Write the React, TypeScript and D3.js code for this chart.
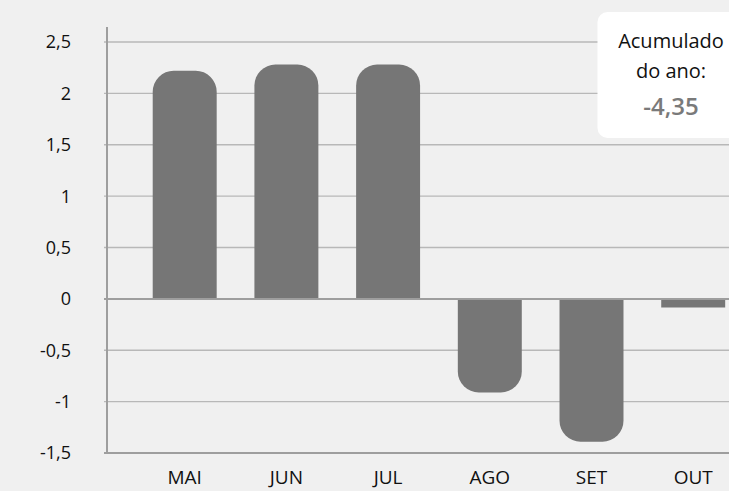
import React from "react";
import * as d3 from "d3";

const categories = ["MAI", "JUN", "JUL", "AGO", "SET", "OUT"];
const values = [2.22, 2.28, 2.28, -0.91, -1.39, -0.085];
const yTicks = [-1.5, -1, -0.5, 0, 0.5, 1, 1.5, 2, 2.5];
const calloutLines = ["Acumulado", "do ano:"];
const calloutValue = "-4,35";

const W = 729;
const H = 491;

function barPath(x: number, w: number, y0: number, y1: number, r: number) {
  const p = d3.path();
  const s = y1 < y0 ? 1 : -1;
  p.moveTo(x, y0);
  p.lineTo(x, y1 + s * r);
  if (r > 0) p.arcTo(x, y1, x + r, y1, r);
  else p.lineTo(x, y1);
  p.lineTo(x + w - r, y1);
  if (r > 0) p.arcTo(x + w, y1, x + w, y1 + s * r, r);
  else p.lineTo(x + w, y1);
  p.lineTo(x + w, y0);
  p.closePath();
  return p.toString();
}

export default function App() {
  const x = d3
    .scaleBand<string>()
    .domain(categories)
    .range([122.2, 755.7])
    .paddingInner(0.371)
    .paddingOuter(0.3);
  const y = d3.scaleLinear().domain([-1.5, 2.5]).range([453, 42]);
  const fmt = (v: number) => String(v).replace(".", ",");
  const axisX = 107;
  const font = "'Open Sans', sans-serif";
  const y0 = y(0);

  return (
    <svg
      width={W}
      height={H}
      style={{ position: "absolute", left: 0, top: 0, background: "#f0f0f0" }}
    >
      <rect x={0} y={0} width={W} height={H} fill="#f0f0f0" />
      {yTicks
        .filter((t) => t !== 0 && t !== -1.5)
        .map((t) => (
          <line
            key={"g" + t}
            x1={axisX - 3}
            x2={W}
            y1={y(t)}
            y2={y(t)}
            stroke="#b8b8b8"
            strokeWidth={1.3}
          />
        ))}
      {categories.map((c, i) => {
        const v = values[i];
        const bx = x(c)!;
        const bw = x.bandwidth();
        const tip = y(v);
        const h = Math.abs(tip - y0);
        const r = h > 20 ? 21 : 0;
        return <path key={c} d={barPath(bx, bw, y0, tip, r)} fill="#767676" />;
      })}
      <line x1={axisX - 3} x2={W} y1={y0} y2={y0} stroke="#9e9e9e" strokeWidth={2} />
      <line x1={axisX - 3} x2={W} y1={y(-1.5)} y2={y(-1.5)} stroke="#9e9e9e" strokeWidth={2} />
      <line x1={axisX} x2={axisX} y1={27} y2={y(-1.5) + 1} stroke="#9e9e9e" strokeWidth={2} />
      {yTicks.map((t) => (
        <text
          key={"t" + t}
          x={71}
          y={y(t)}
          dy="0.36em"
          textAnchor="end"
          fontFamily={font}
          fontSize={18}
          fill="#111"
        >
          {fmt(t)}
        </text>
      ))}
      {categories.map((c) => (
        <text
          key={"l" + c}
          x={x(c)! + x.bandwidth() / 2}
          y={484}
          textAnchor="middle"
          fontFamily={font}
          fontSize={19}
          fill="#111"
        >
          {c}
        </text>
      ))}
      <rect x={597.5} y={12} width={160} height={126} rx={10} ry={10} fill="#ffffff" />
      {calloutLines.map((s, i) => (
        <text
          key={s}
          x={671}
          y={48 + i * 30}
          textAnchor="middle"
          fontFamily={font}
          fontSize={20}
          fill="#111"
        >
          {s}
        </text>
      ))}
      <text
        x={671}
        y={115}
        textAnchor="middle"
        fontFamily={font}
        fontSize={24}
        fontWeight={600}
        fill="#7a7a7a"
      >
        {calloutValue}
      </text>
    </svg>
  );
}
